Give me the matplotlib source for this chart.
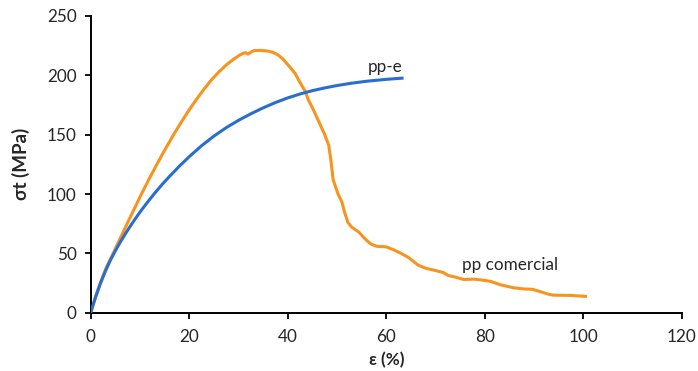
import matplotlib
matplotlib.use("Agg")
import matplotlib.pyplot as plt

# stress-strain curves, strain in %, stress in MPa
pp_e_strain = [0, 0.5, 1, 2, 3, 4, 5, 6, 7, 8, 9, 10, 11.5, 13, 14.5, 16, 18,
               20, 22.5, 25, 27.5, 30, 32.5, 35, 37.5, 40, 42.5, 45, 47.5, 50,
               53, 56, 60, 63.5]
pp_e_stress = [0, 6.9, 13.3, 25, 35.3, 44.3, 52.2, 59.5, 66.3, 72.8, 78.9,
               84.8, 93, 100.8, 108.1, 114.9, 123.5, 131.5, 140.7, 148.8,
               155.9, 162.1, 167.6, 172.6, 177.1, 181, 184.3, 187.1, 189.4,
               191.4, 193.4, 195, 196.6, 197.7]

pp_com_strain = [0, 1, 2, 3.2, 5, 7.5, 10.3, 12, 13.5, 15, 16.8, 18.5, 20,
                 21.5, 23, 24.5, 26, 27.5, 29, 30.3, 31, 31.5, 31.9, 32.4,
                 33.1, 34.5, 36, 37, 38, 39, 40.2, 41.5, 42.2, 43.6, 44.1,
                 45.3, 46.4, 47.5, 48.3, 48.7, 49.2, 50.2, 51, 51.5, 52.2, 53,
                 54.4, 55.5, 56.8, 58, 60, 61.5, 63, 64.5, 66.5, 68, 70, 71.5,
                 72.5, 74, 75.7, 77.8, 79.5, 81.1, 83.2, 85.9, 88, 89.6, 91.3,
                 93, 94, 97.4, 100.4]
pp_com_stress = [0, 14, 26, 38.5, 54, 76, 100.1, 113.9, 125.6, 136.9, 149.9,
                 161.4, 171, 180, 188.4, 196.1, 202.8, 208.7, 213.6, 217.2,
                 218.6, 219, 217.8, 219.2, 220.8, 221, 220.4, 219.3, 217.2,
                 213.8, 208, 201.5, 196, 186, 180, 170, 160, 150, 141, 130,
                 112, 100, 93, 85, 76, 72, 68, 63, 58, 56, 55.5, 53, 50, 46.5,
                 40, 37.5, 35.5, 34, 31.5, 30, 28, 28.3, 27.5, 26.5, 23.5, 21,
                 20, 19.8, 17.7, 15.5, 14.8, 14.6, 13.8]

x_ticks = [0, 20, 40, 60, 80, 100, 120]
y_ticks = [0, 50, 100, 150, 200, 250]

plt.rcParams['font.family'] = ['Lato', 'DejaVu Sans']
txt = '#262626'

fig = plt.figure(figsize=(6.98, 3.71), dpi=100)
ax = fig.add_axes([0.13, 0.157, 0.847, 0.8])

ax.plot(pp_com_strain, pp_com_stress, color='#F7941E', lw=2.2,
        solid_joinstyle='round', zorder=2)
ax.plot(pp_e_strain, pp_e_stress, color='#2A6DD0', lw=2.2,
        solid_joinstyle='round', solid_capstyle='butt', zorder=3)

ax.text(56.2, 207, 'pp-e', fontsize=12.3, color=txt, va='center', ha='left')
ax.text(75.3, 40.2, 'pp comercial', fontsize=12.3, color=txt, va='center',
        ha='left')

ax.set_xlim(0, 120)
ax.set_ylim(0, 250)
ax.set_xticks(x_ticks)
ax.set_yticks(y_ticks)
ax.tick_params(labelsize=12.3, colors='black', labelcolor=txt, length=4,
               width=1.3)
ax.tick_params(axis='x', pad=8)
ax.tick_params(axis='y', pad=6)

for side in ['top', 'right']:
    ax.spines[side].set_visible(False)
for side in ['left', 'bottom']:
    ax.spines[side].set_linewidth(1.4)
    ax.spines[side].set_color('black')

ax.set_xlabel('ε (%)', fontsize=12.3, fontweight='bold', color=txt,
              labelpad=5)
ax.set_ylabel('σt (MPa)', fontsize=13.5, fontweight='bold', color=txt,
              labelpad=12)

fig.savefig('out.png', dpi=100)
